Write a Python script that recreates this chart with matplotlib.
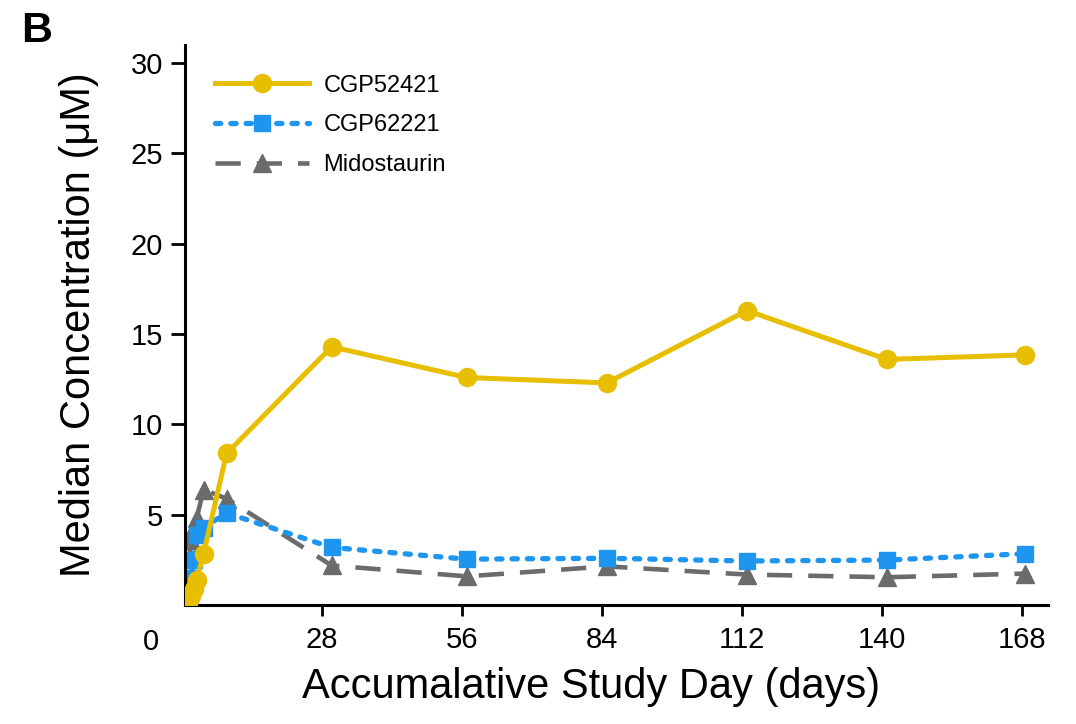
import matplotlib.pyplot as plt
import numpy as np

plt.rcParams['font.family'] = ['Liberation Sans', 'DejaVu Sans']

# study days of each PK sample
days = [1.2, 1.8, 2.4, 3.0, 4.4, 9.0, 30, 57, 85, 113, 141, 168.5]
cgp52421 = [0.1, 0.5, 0.9, 1.4, 2.85, 8.4, 14.3, 12.6, 12.3, 16.3, 13.6, 13.85]
cgp62221 = [0.1, 1.5, 2.5, 3.9, 4.3, 5.1, 3.2, 2.55, 2.6, 2.45, 2.5, 2.85]
midostaurin = [0.1, 3.6, 4.3, 4.8, 6.4, 5.9, 2.2, 1.6, 2.15, 1.7, 1.55, 1.75]

xticks = [28, 56, 84, 112, 140, 168]
yticks = [5, 10, 15, 20, 25, 30]

fig = plt.figure(figsize=(10.76, 7.24), dpi=100)
ax = fig.add_axes([0.172, 0.164, 0.802, 0.774])

ax.plot(days, cgp52421, color='#E8BE00', lw=3.6, marker='o', ms=13,
        label='CGP52421', zorder=3)
ax.plot(days, cgp62221, color='#1E96F0', lw=3.8, ls=(0, (1.0, 1.9)),
        dash_capstyle='round', marker='s', ms=11.5, label='CGP62221', zorder=2)
ax.plot(days, midostaurin, color='#6B6B6B', lw=3.3, ls=(0, (5.5, 3.5)),
        marker='^', ms=13, label='Midostaurin', zorder=1)

ax.set_xlim(0.7, 173.2)
ax.set_ylim(0, 31)
ax.set_xticks(xticks)
ax.set_yticks(yticks)
ax.tick_params(labelsize=21, width=2, length=8, pad=7)
ax.tick_params(axis='y', length=10, pad=6)

ax.spines['right'].set_color(None)
ax.spines['top'].set_color(None)
for s in ['left', 'bottom']:
    ax.spines[s].set_linewidth(2.2)

# shared origin label, set off to the left of the axes corner
ax.text(-0.04, -0.04, '0', transform=ax.transAxes, fontsize=21,
        ha='center', va='top')

ax.set_xlabel('Accumalative Study Day (days)', fontsize=30)
ax.set_ylabel('Median Concentration (\u03bcM)', fontsize=30)
ax.xaxis.set_label_coords(0.47, -0.11)
ax.yaxis.set_label_coords(-0.1, 0.5)

fig.text(0.02, 0.985, 'B', fontsize=31, fontweight='bold', va='top')

ax.legend(loc='upper left', bbox_to_anchor=(0.01, 0.985), frameon=False,
          fontsize=17, handlelength=4.0, labelspacing=0.75, handletextpad=0.6)

fig.savefig('out.png', dpi=100)
